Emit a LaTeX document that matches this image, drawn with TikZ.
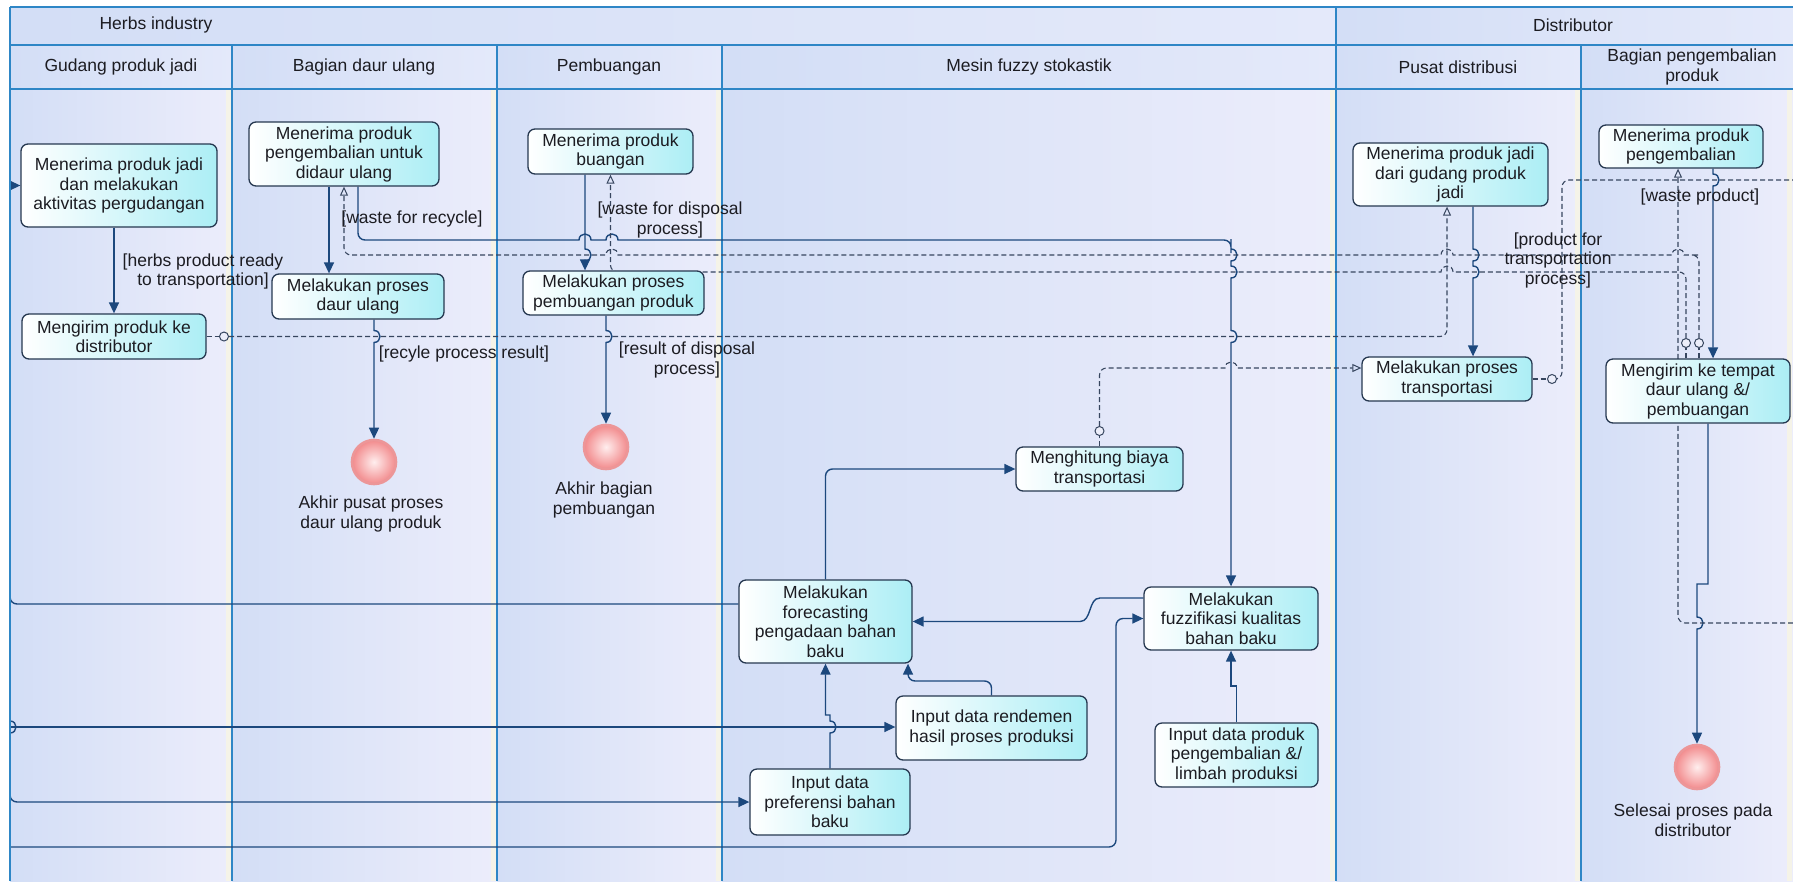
\documentclass[tikz,border=0pt]{standalone}
\usepackage{fontspec}
\setmainfont{Liberation Sans}
\usetikzlibrary{arrows.meta}

\pgfdeclarelayer{lanes}
\pgfdeclarelayer{wires}
\pgfsetlayers{lanes,wires,main}

\definecolor{navy}{RGB}{28,72,125}
\definecolor{dashc}{RGB}{55,70,95}
\definecolor{lanel}{RGB}{211,222,246}
\definecolor{laner}{RGB}{236,237,251}
\definecolor{hdl}{RGB}{211,222,246}
\definecolor{hdr}{RGB}{228,233,250}
\definecolor{divc}{RGB}{46,134,198}
\definecolor{boxm}{RGB}{232,250,252}
\definecolor{boxr}{RGB}{172,238,245}
\definecolor{boxd}{RGB}{38,56,80}
\definecolor{endb}{RGB}{236,150,152}
\definecolor{endi}{RGB}{255,238,238}
\definecolor{endo}{RGB}{242,138,140}
\definecolor{txt}{RGB}{28,28,34}
\definecolor{stripe}{RGB}{245,243,232}
\definecolor{pinf}{RGB}{236,238,250}

% line jumps: horizontal right / left (bump up), vertical down / up (bump right)
\newcommand{\jmpR}[2]{-- ({#1-6},#2) .. controls ({#1-6},{#2-8}) and ({#1+6},{#2-8}) .. ({#1+6},#2)}
\newcommand{\jmpL}[2]{-- ({#1+6},#2) .. controls ({#1+6},{#2-8}) and ({#1-6},{#2-8}) .. ({#1-6},#2)}
\newcommand{\jmpD}[2]{-- (#1,{#2-6}) .. controls ({#1+8},{#2-6}) and ({#1+8},{#2+6}) .. (#1,{#2+6})}
\newcommand{\jmpU}[2]{-- (#1,{#2+6}) .. controls ({#1+8},{#2+6}) and ({#1+8},{#2-6}) .. (#1,{#2-6})}

\begin{document}
\begin{tikzpicture}[x=1pt,y=-1pt,
  font=\fontsize{17.5}{19.5}\selectfont,
  act/.style={draw=boxd, line width=1.3pt, rounded corners=7pt, left color=white,
    middle color=boxm, right color=boxr, align=center, inner sep=2pt, text=txt},
  endc/.style={circle, draw=endb, line width=2.6pt, inner color=endi, outer color=endo,
    minimum size=44pt, inner sep=0pt},
  pinc/.style={circle, draw=dashc, line width=1pt, fill=pinf, minimum size=9pt, inner sep=0pt},
  lbl/.style={align=center, inner sep=0pt, text=txt},
  flow/.style={draw=navy, line width=1.4pt, -{Triangle[length=11pt,width=10pt]}},
  wire/.style={draw=navy, line width=1.4pt},
  objw/.style={draw=dashc, line width=1.1pt, dash pattern=on 5pt off 3pt},
  obj/.style={objw, -{Triangle[open,length=9pt,width=8pt,line width=1pt]}},
  divl/.style={draw=divc, line width=1.4pt}]

\useasboundingbox (0,0) rectangle (1793,881);

% ---------- swimlanes ----------
\begin{pgfonlayer}{lanes}
  \fill[white] (0,0) rectangle (1793,881);
  \shade[left color=hdl,right color=hdr] (10,7) rectangle (1336,45);
  \shade[left color=hdl,right color=hdr] (1336,7) rectangle (1793,45);
  \foreach \a/\b in {10/232,232/497,497/722,722/1336,1336/1581,1581/1793} {
    \shade[left color=hdl,right color=hdr] (\a,45) rectangle (\b,89);
    \shade[left color=lanel,right color=laner] (\a,89) rectangle (\b,881);
    \fill[stripe] ({\b-6},89) rectangle ({\b-1},881);
  }
  \draw[divl] (10,7) -- (1793,7);
  \draw[divl] (10,45) -- (1793,45);
  \draw[divl] (10,89) -- (1793,89);
  \foreach \x in {232,497,722,1581} \draw[divl] (\x,45) -- (\x,881);
  \draw[divl] (1336,7) -- (1336,881);
\end{pgfonlayer}

% ---------- headers ----------
\node[lbl] (h0) at (156,25) {Herbs industry};
\node[lbl] (h1) at (1573,25) {Distributor};
\node[lbl] (l1) at (121,67) {Gudang produk jadi};
\node[lbl] (l2) at (364,67) {Bagian daur ulang};
\node[lbl] (l3) at (609,67) {Pembuangan};
\node[lbl] (l4) at (1029,67) {Mesin fuzzy stokastik};
\node[lbl] (l5) at (1458,67) {Pusat distribusi};
\node[lbl] (l6) at (1692,67) {Bagian pengembalian\\produk};

% ---------- activities ----------
\node[act, minimum width=196pt, minimum height=83pt] (n1) at (119,185.5) {Menerima produk jadi\\dan melakukan\\aktivitas pergudangan};
\node[act, minimum width=184pt, minimum height=45pt] (n2) at (114,336.5) {Mengirim produk ke\\distributor};
\node[act, minimum width=190pt, minimum height=64pt] (n3) at (344,154) {Menerima produk\\pengembalian untuk\\didaur ulang};
\node[act, minimum width=172pt, minimum height=45pt] (n4) at (358,296.5) {Melakukan proses\\daur ulang};
\node[act, minimum width=165pt, minimum height=45pt] (n5) at (610.5,151.5) {Menerima produk\\buangan};
\node[act, minimum width=181pt, minimum height=44pt] (n6) at (613.5,293) {Melakukan proses\\pembuangan produk};
\node[act, minimum width=167pt, minimum height=44pt] (n7) at (1099.5,469) {Menghitung biaya\\transportasi};
\node[act, minimum width=170pt, minimum height=44pt] (n8) at (1447,379) {Melakukan proses\\transportasi};
\node[act, minimum width=195pt, minimum height=63pt] (n9) at (1450.5,174.5) {Menerima produk jadi\\dari gudang produk\\jadi};
\node[act, minimum width=164pt, minimum height=43pt] (n10) at (1681,146.5) {Menerima produk\\pengembalian};
\node[act, minimum width=184pt, minimum height=64pt] (n11) at (1698,391) {Mengirim ke tempat\\daur ulang \&/\\pembuangan};
\node[act, minimum width=173pt, minimum height=83pt] (n14) at (825.5,621.5) {Melakukan\\forecasting\\pengadaan bahan\\baku};
\node[act, minimum width=174pt, minimum height=63pt] (n15) at (1231,618.5) {Melakukan\\fuzzifikasi kualitas\\bahan baku};
\node[act, minimum width=191pt, minimum height=64pt] (n16) at (991.5,728) {Input data rendemen\\hasil proses produksi};
\node[act, minimum width=160pt, minimum height=66pt] (n17) at (830,802) {Input data\\preferensi bahan\\baku};
\node[act, minimum width=163pt, minimum height=64pt] (n18) at (1236.5,755) {Input data produk\\pengembalian \&/\\limbah produksi};

% ---------- final nodes ----------
\node[endc] (e1) at (374,462) {};
\node[lbl] (t1) at (371,514) {Akhir pusat proses\\daur ulang produk};
\node[endc] (e2) at (606,447) {};
\node[lbl] (t2) at (604,500) {Akhir bagian\\pembuangan};
\node[endc] (e3) at (1697,767) {};
\node[lbl] (t3) at (1693,820) {Selesai proses pada\\distributor};

% ---------- object pins ----------
\node[pinc] (p1) at (224,336.5) {};
\node[pinc] (p2) at (1699,343) {};
\node[pinc] (p3) at (1686,343) {};
\node[pinc] (p4) at (1099.5,431) {};
\node[pinc] (p5) at (1552,379) {};

% ---------- guard labels ----------
\node[lbl] (g1) at (203,271.5) {[herbs product ready\\to transportation]};
\node[lbl] (g2) at (412,219) {[waste for recycle]};
\node[lbl] (g3) at (670,220) {[waste for disposal\\process]};
\node[lbl] (g4) at (464,354) {[recyle process result]};
\node[lbl] (g5) at (687,360) {[result of disposal\\process]};
\node[lbl] (g6) at (1558,260) {[product for\\transportation\\process]};
\node[lbl] (g7) at (1700,197) {[waste product]};

% ---------- loose ends at the picture border ----------
\coordinate (inA) at (10,185.5);
\coordinate (outA) at (1793,180);
\coordinate (inB) at (1793,623);
\coordinate (outC) at (10,590);
\coordinate (outD) at (10,700);
\coordinate (inE) at (10,727);
\coordinate (inF) at (10,847);

\coordinate (s2) at ([xshift=-15]n3.south);
\coordinate (s3) at ([xshift=14]n3.south);
\coordinate (s4) at ([xshift=16]n4.south);
\coordinate (s5) at ([xshift=-25.5]n5.south);
\coordinate (s6) at ([xshift=-7.5]n6.south);
\coordinate (s7) at ([xshift=22.5]n9.south);
\coordinate (s8) at ([xshift=32]n10.south);
\coordinate (s9) at ([xshift=10]n11.south);

% ---------- connectors ----------
\begin{pgfonlayer}{wires}
  % control flow
  \draw[flow] (inA) -- (n1.west);
  \draw[flow] (n1.south -| n2.north) -- (n2.north);
  \draw[flow] (s2) -- (s2 |- n4.north);
  \draw[flow] (s3) [rounded corners=7pt] -- (358,240) -- (570,240) [sharp corners]
    \jmpR{585}{240} \jmpR{612}{240} [rounded corners=7pt] -- (1231,240) -- (1231,246) [sharp corners]
    \jmpD{1231}{255} \jmpD{1231}{272} \jmpD{1231}{336.5} -- (n15.north);
  \draw[flow] (s4) \jmpD{374}{336.5} -- (e1.north);
  \draw[flow] (s5) \jmpD{585}{255} -- (s5 |- n6.north);
  \draw[flow] (s6) \jmpD{606}{336.5} -- (e2.north);
  \draw[flow] (s7) \jmpD{1473}{255} \jmpD{1473}{272} -- (s7 |- n8.north);
  \draw[flow] (s8) \jmpD{1713}{180} -- (s8 |- n11.north);
  \draw[flow] (s9) -- (1708,584) -- (1697,584) \jmpD{1697}{623} -- (e3.north);

  % fuzzy engine
  \draw[wire] ([yshift=17.5]n14.west) [rounded corners=7pt] -- (10,604) -- (outC);
  \draw[flow] (outD) \jmpD{10}{727} [rounded corners=7pt] -- (10,802) -- (n17.west);
  \draw[flow] (inE) -- (inE -| n16.west);
  \draw[flow] (inF) [rounded corners=7pt] -- (1116,847) -- (1116,618.5) -- (n15.west);
  \draw[flow] (n14.north) [rounded corners=7pt] -- (n14.north |- n7.west) -- (n7.west);
  \draw[flow] ([yshift=20.5]n15.west) -- (1100,598) .. controls (1088,598) and (1092,621.5) .. (1080,621.5) -- (n14.east);
  \draw[flow] (n16.north) [rounded corners=7pt] -- (991.5,681) -- (908,681) -- ([xshift=82.5]n14.south);
  \draw[flow] (n17.north) \jmpU{830}{727} -- (830,715) -- (825.5,715) -- (n14.south);
  \draw[flow] (n18.north) -- (1236.5,686) -- (1231,686) -- (n15.south);

  % object flow
  \draw[objw] (n2.east) -- (p1.west);
  \draw[obj] (p1.east) [rounded corners=7pt] -- (1447,336.5) -- ([xshift=-3.5]n9.south);
  \draw[objw] (p2.south |- n11.north) -- (p2.south);
  \draw[objw] (p3.south |- n11.north) -- (p3.south);
  \draw[obj] (p2.north) [rounded corners=7pt] -- (1699,255) -- (1692,255) [sharp corners]
    \jmpL{1678}{255} \jmpL{1447}{255} \jmpL{612}{255} [rounded corners=7pt] -- (344,255) -- (n3.south);
  \draw[obj] (p3.north) [rounded corners=7pt] -- (1686,272) -- (1460,272) [sharp corners]
    \jmpL{1447}{272} [rounded corners=7pt] -- (610.5,272) -- (n5.south);
  \draw[objw] (n7.north) -- (p4.south);
  \draw[obj] (p4.north) [rounded corners=7pt] -- (1099.5,368) -- (1215,368) [sharp corners]
    \jmpR{1231}{368} -- ([yshift=11]n8.west);
  \draw[objw] (n8.east) -- (p5.west);
  \draw[objw] (p5.east) [rounded corners=7pt] -- (1562,379) -- (1562,180) -- (outA);
  \draw[obj] (inB) [rounded corners=7pt] -- (1678,623) -- ([xshift=-3]n10.south);

  % left frame edge drawn over the flows that leave the picture there
  \draw[divl] (10,7) -- (10,881);
\end{pgfonlayer}
\end{tikzpicture}
\end{document}
